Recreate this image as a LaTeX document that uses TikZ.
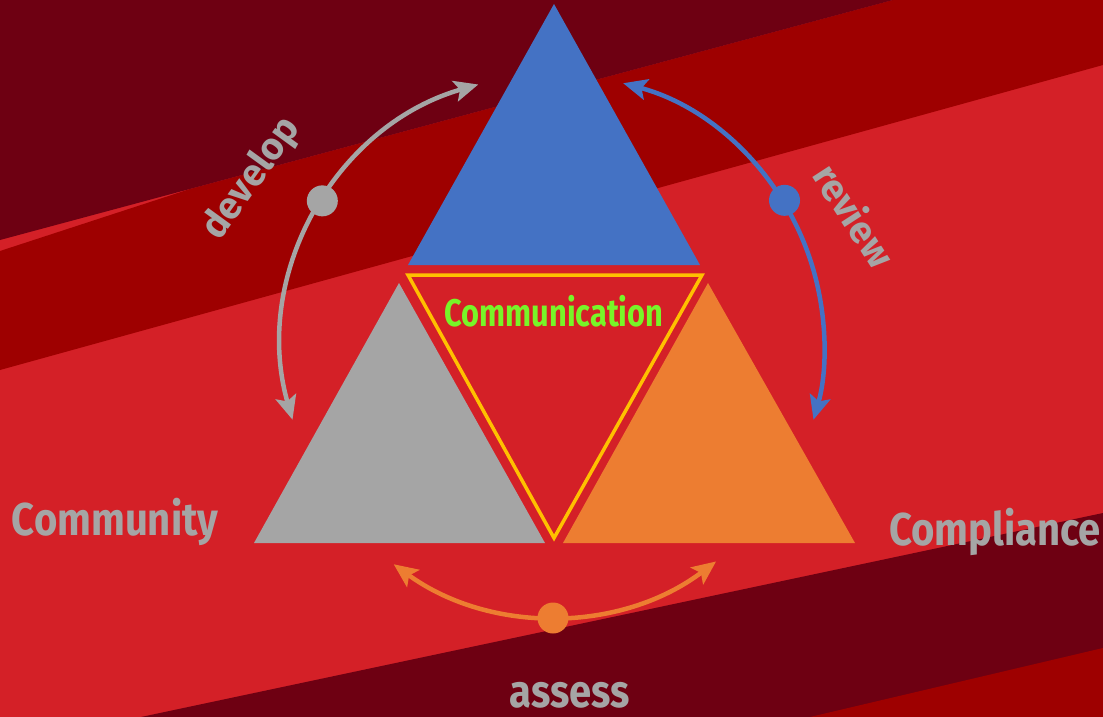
\documentclass[tikz,border=0pt]{standalone}
\usepackage{fontspec}
\usetikzlibrary{calc,arrows.meta}
\newfontfamily\lblfont{Fira Sans}[FakeStretch=0.87]
\newfontfamily\commfont{Fira Sans}[FakeStretch=0.8]
\newfontfamily\arcfont{Fira Sans}
\definecolor{maroon}{RGB}{110,0,18}
\definecolor{midred}{RGB}{158,0,0}
\definecolor{bright}{RGB}{212,32,39}
\definecolor{tblue}{RGB}{68,114,196}
\definecolor{tgray}{RGB}{165,165,165}
\definecolor{torange}{RGB}{237,125,49}
\definecolor{tyellow}{RGB}{255,192,0}
\definecolor{tlime}{RGB}{120,245,40}
\tikzset{
  cyclelink/.style={line width=4.5pt,{Stealth[length=24pt,width=21pt,inset=5pt]}-{Stealth[length=24pt,width=21pt,inset=5pt]}},
  lbl/.style={inner sep=0pt,text=tgray,font=\lblfont\bfseries\fontsize{46}{50}\selectfont,anchor=base},
  arclbl/.style={inner sep=0pt,text=tgray,font=\arcfont\bfseries\fontsize{38}{42}\selectfont},
  comm/.style={inner sep=0pt,text=tlime,font=\commfont\bfseries\fontsize{38.5}{42}\selectfont,anchor=base}
}
\begin{document}
\begin{tikzpicture}[x=1pt,y=1pt]
\useasboundingbox (0,0) rectangle (1103,-717);
% background bands
\fill[bright] (0,0) rectangle (1103,-717);
\fill[midred] (0,-251) -- (190,-189) -- (893,0) -- (1103,0) -- (1103,-65) -- (0,-370) -- cycle;
\fill[maroon] (0,0) -- (893,0) -- (0,-240) -- cycle;
\fill[maroon] (141,-717) -- (1103,-513) -- (1103,-717) -- cycle;
\fill[midred] (810,-717) -- (1103,-648) -- (1103,-717) -- cycle;
% triangles
\fill[tblue] (408,-265) -- (700,-265) -- (554,-4) -- cycle;
\fill[tgray] (254,-543) -- (545,-543) -- (399,-283) -- cycle;
\fill[torange] (563,-543) -- (855,-543) -- (708,-283) -- cycle;
\draw[tyellow,line width=3.5pt,fill=bright,line join=miter] (408,-275) -- (702,-275) -- (554,-538) -- cycle;
% cycle arcs
\coordinate (C) at (553,-345);
\coordinate (gA) at ($(C)+(196:271)$);
\coordinate (gD) at ($(C)+(148:272)$);
\coordinate (bA) at ($(C)+(75:271)$);
\coordinate (bD) at ($(C)+(32:273)$);
\coordinate (oA) at ($(C)+(234:271)$);
\coordinate (oD) at ($(C)+(270:273)$);
\draw[tgray,cyclelink] (gA) arc[start angle=196,end angle=106,radius=271];
\draw[tblue,cyclelink] (bA) arc[start angle=75,end angle=-16,radius=271];
\draw[torange,cyclelink] (oA) arc[start angle=234,end angle=307,radius=271];
\fill[tgray] (gD) circle (15.5);
\fill[tblue] (bD) circle (15.5);
\fill[torange] (oD) circle (15.5);
% labels
\node[comm] (communication) at (554,-326) {Communication};
\node[lbl] (community) at (115,-535) {Community};
\node[lbl] (compliance) at (995,-545) {Compliance};
\node[lbl] (assess) at (570,-707) {assess};
\node[arclbl,rotate=54] (develop) at (252,-179) {develop};
\node[arclbl,rotate=-57] (review) at (855,-215) {review};
\end{tikzpicture}
\end{document}
